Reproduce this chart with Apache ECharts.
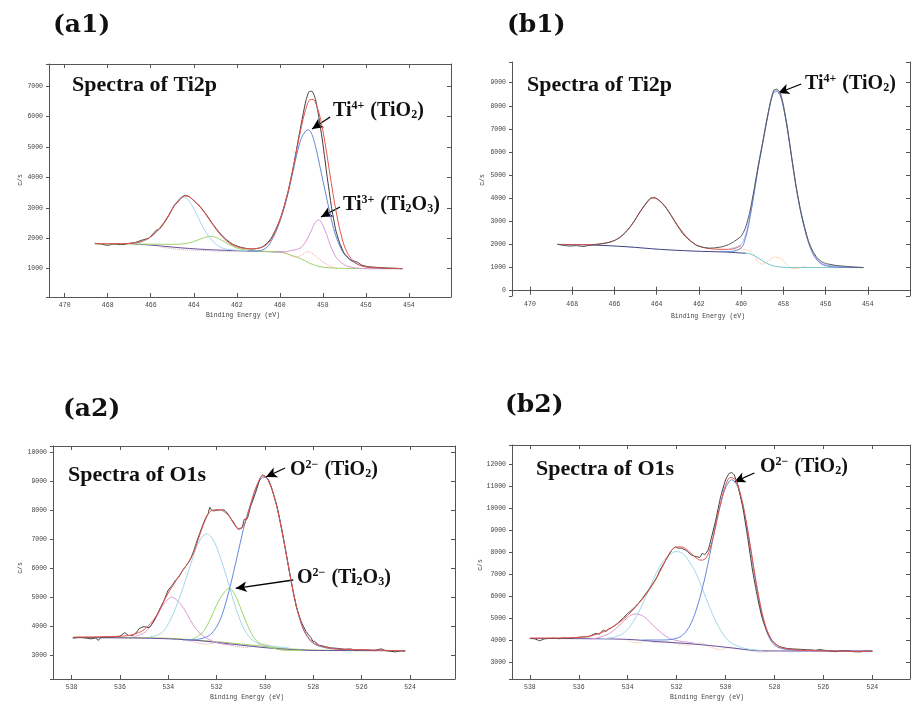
<!DOCTYPE html>
<html>
<head>
<meta charset="utf-8">
<script src="https://cdn.jsdelivr.net/npm/echarts@6/dist/echarts.min.js"></script>
<style>html,body{margin:0;padding:0;background:#fff}#c{width:913px;height:704px}</style>
</head>
<body>
<div id="c"></div>
<script>
// ---------------- DATA (binding energy eV, counts c/s) ----------------
// Panel a1: Ti2p
const a1Raw = [[468.6,1830],[468.3,1810],[468.0,1766],[467.85,1790],[467.7,1810],[467.4,1790],[467.2,1805],[467.0,1830],[466.7,1865],[466.4,1940],[466.1,2000],[465.9,2140],[465.75,2260],[465.6,2300],[465.4,2480],[465.2,2700],[464.9,3090],[464.75,3180],[464.6,3310],[464.4,3410],[464.2,3365],[464.0,3230],[463.7,3040],[463.4,2760],[463.1,2450],[462.8,2180],[462.5,1960],[462.2,1810],[461.9,1720],[461.6,1670],[461.3,1645],[461.0,1670],[460.8,1720],[460.6,1830],[460.4,2000],[460.2,2270],[460.0,2600],[459.8,3040],[459.6,3580],[459.4,4240],[459.2,5000],[459.0,5770],[458.8,6480],[458.65,6810],[458.5,6830],[458.35,6590],[458.2,6050],[458.0,5120],[457.8,4030],[457.6,3040],[457.4,2270],[457.2,1810],[457.0,1500],[456.7,1280],[456.5,1240],[456.35,1200],[456.2,1120],[455.9,1065],[455.5,1045],[455.2,1030],[455.0,1020],[454.7,1015],[454.5,1010],[454.3,1000]];
const a1Fit = [[468.6,1820],[467.0,1830],[466.5,1880],[466.0,2050],[465.6,2320],[465.2,2720],[464.9,3080],[464.6,3320],[464.45,3390],[464.2,3360],[464.0,3240],[463.7,3020],[463.4,2740],[463.1,2430],[462.8,2150],[462.5,1930],[462.2,1780],[461.9,1700],[461.6,1660],[461.3,1650],[461.0,1670],[460.8,1710],[460.6,1800],[460.4,1960],[460.2,2230],[460.0,2580],[459.8,3030],[459.6,3580],[459.4,4230],[459.2,4950],[459.0,5650],[458.8,6220],[458.6,6550],[458.45,6560],[458.3,6380],[458.1,5900],[457.9,5150],[457.7,4250],[457.5,3350],[457.3,2580],[457.1,1980],[456.9,1580],[456.6,1260],[456.3,1120],[456.0,1060],[455.5,1030],[455.0,1015],[454.3,1005]];
const a1Ti4 = [[461.5,1580],[461.0,1585],[460.6,1700],[460.4,1900],[460.2,2180],[460.0,2540],[459.8,2980],[459.6,3520],[459.4,4150],[459.2,4780],[459.0,5280],[458.8,5520],[458.67,5560],[458.5,5400],[458.3,4900],[458.1,4240],[457.9,3580],[457.7,2930],[457.5,2320],[457.3,1890],[457.1,1590],[456.9,1390],[456.6,1230],[456.3,1120],[456.0,1060],[455.5,1025],[455.0,1010],[454.3,1000]];
const a1Ti3 = [[460.2,1550],[459.8,1545],[459.53,1590],[459.3,1620],[459.06,1670],[458.9,1780],[458.75,1940],[458.52,2270],[458.36,2510],[458.21,2600],[458.1,2560],[457.97,2380],[457.8,2080],[457.66,1780],[457.5,1530],[457.35,1340],[457.1,1180],[456.89,1090],[456.6,1040],[456.27,1010],[455.5,1000],[454.3,1000]];
const a1Ti4b = [[467.0,1815],[466.5,1860],[466.0,2030],[465.6,2300],[465.2,2700],[464.9,3060],[464.7,3280],[464.55,3360],[464.3,3290],[464.0,2980],[463.7,2540],[463.4,2160],[463.1,1890],[462.8,1720],[462.5,1645],[462.0,1610],[461.5,1590]];
const a1Ti3b = [[468.6,1815],[467.5,1812],[466.5,1808],[465.5,1802],[465.0,1800],[464.5,1812],[464.0,1890],[463.6,2000],[463.2,2060],[462.8,1975],[462.4,1810],[462.0,1680],[461.6,1615],[461.2,1590],[460.8,1575],[460.3,1555],[460.0,1540],[459.7,1500],[459.4,1430],[459.06,1340],[458.8,1250],[458.6,1175],[458.35,1110],[458.13,1065],[457.8,1035],[457.5,1020],[457.0,1010],[456.0,1003],[454.3,1000]];
const a1Bg = [[466.8,1808],[466.0,1775],[465.3,1730],[464.6,1685],[463.8,1645],[463.0,1615],[462.0,1590],[461.0,1570],[460.3,1555],[459.8,1545]];
const a1Res = [[465.6,1720],[465.2,1680],[464.8,1640],[464.2,1610],[463.6,1600],[463.0,1580],[462.4,1570],[461.0,1560],[459.9,1570],[459.6,1470],[459.3,1380],[459.0,1440],[458.7,1560],[458.45,1480],[458.2,1330],[457.9,1180],[457.6,1060],[457.3,1010]];

// Panel b1: Ti2p
const b1Raw = [[468.7,2005],[468.4,1960],[468.1,1930],[467.8,1950],[467.5,1910],[467.2,1960],[466.9,1990],[466.6,2030],[466.3,2080],[466.0,2170],[465.7,2340],[465.4,2600],[465.1,2950],[464.8,3400],[464.5,3790],[464.3,4000],[464.1,4040],[463.9,3920],[463.6,3640],[463.3,3230],[463.0,2780],[462.7,2400],[462.4,2150],[462.1,1960],[461.8,1880],[461.5,1840],[461.2,1860],[460.9,1900],[460.6,1990],[460.3,2150],[460.0,2350],[459.8,2700],[459.6,3350],[459.4,4300],[459.2,5350],[459.0,6300],[458.8,7300],[458.6,8200],[458.45,8680],[458.3,8720],[458.15,8580],[458.0,8050],[457.8,7000],[457.6,5750],[457.4,4550],[457.2,3550],[457.0,2770],[456.8,2120],[456.6,1700],[456.4,1420],[456.2,1260],[456.0,1180],[455.8,1140],[455.5,1090],[455.0,1050],[454.6,1020],[454.2,1000]];
const b1Fit = [[468.7,2000],[468.0,1985],[467.0,2000],[466.5,2050],[466.0,2170],[465.6,2400],[465.2,2830],[464.8,3380],[464.5,3760],[464.2,4010],[463.9,3930],[463.6,3650],[463.3,3250],[463.0,2820],[462.6,2350],[462.2,2020],[461.8,1870],[461.4,1810],[461.0,1790],[460.6,1790],[460.3,1830],[460.0,1950]];
const b1Ti4 = [[461.0,1700],[460.5,1700],[460.0,1850],[459.8,2250],[459.6,3050],[459.4,4100],[459.2,5250],[459.0,6250],[458.8,7250],[458.6,8150],[458.45,8580],[458.3,8620],[458.15,8450],[458.0,7950],[457.8,6950],[457.6,5700],[457.4,4500],[457.2,3500],[457.0,2700],[456.8,2050],[456.6,1600],[456.4,1320],[456.2,1160],[456.0,1080],[455.5,1020],[455.0,1005],[454.2,1000]];
const b1Env = [[460.6,1790],[460.3,1870],[460.0,2000],[459.8,2380],[459.6,3150],[459.4,4200],[459.2,5330],[459.0,6330],[458.8,7320],[458.6,8220],[458.45,8640],[458.3,8680],[458.15,8520],[458.0,8000],[457.8,7000],[457.6,5740],[457.4,4540],[457.2,3540],[457.0,2740],[456.8,2090],[456.6,1640],[456.4,1360],[456.2,1200],[456.0,1120],[455.5,1060],[455.0,1030],[454.2,1010]];
const b1Bg = [[468.7,2005],[467.0,1975],[465.4,1900],[463.86,1790],[462.28,1715],[460.7,1670],[459.76,1615]];
const b1Bg2 = [[459.9,1640],[459.6,1600],[459.3,1480],[459.0,1300],[458.7,1150],[458.4,1060],[458.0,1015],[457.5,1000],[454.2,1000]];
const b1Res = [[460.4,1700],[460.0,1800],[459.7,1750],[459.4,1550],[459.2,1250],[459.0,1150],[458.7,1300],[458.4,1450],[458.1,1380],[457.8,1100],[457.5,950],[457.2,1000],[456.9,1050]];

// Panel a2: O1s
const a2Raw = [[537.95,3580],[537.7,3610],[537.5,3600],[537.2,3560],[537.0,3590],[536.9,3500],[536.8,3600],[536.6,3620],[536.3,3630],[536.0,3650],[535.8,3770],[535.65,3680],[535.5,3670],[535.3,3800],[535.2,3920],[535.0,3980],[534.8,3950],[534.65,4100],[534.5,4330],[534.35,4600],[534.2,4850],[534.0,5250],[533.85,5400],[533.7,5590],[533.55,5720],[533.4,5940],[533.25,6100],[533.1,6290],[532.95,6600],[532.8,6980],[532.6,7440],[532.45,7750],[532.35,7900],[532.28,8110],[532.2,8000],[532.1,7990],[531.9,8020],[531.7,8020],[531.5,7840],[531.3,7560],[531.1,7350],[530.95,7400],[530.85,7700],[530.75,7700],[530.6,8130],[530.4,8590],[530.2,9110],[530.1,9230],[530.0,9190],[529.9,9110],[529.7,8710],[529.5,8130],[529.3,7320],[529.1,6400],[528.9,5480],[528.7,4670],[528.5,4150],[528.3,3810],[528.1,3600],[528.0,3460],[527.95,3480],[527.8,3350],[527.5,3290],[527.3,3250],[527.0,3230],[526.7,3200],[526.5,3210],[526.2,3170],[526.0,3180],[525.7,3170],[525.5,3160],[525.2,3210],[525.0,3150],[524.9,3140],[524.6,3110],[524.4,3140],[524.2,3140]];
const a2Fit = [[537.9,3620],[537.0,3630],[536.0,3650],[535.5,3700],[535.0,3880],[534.5,4350],[534.0,5150],[533.5,5800],[533.0,6450],[532.7,7150],[532.4,7800],[532.2,8000],[531.9,8030],[531.6,7900],[531.3,7600],[531.1,7380],[530.9,7450],[530.7,7900],[530.5,8500],[530.3,8950],[530.1,9200],[529.9,9100],[529.7,8700],[529.5,8100],[529.3,7300],[529.1,6400],[528.9,5480],[528.7,4680],[528.5,4100],[528.3,3720],[528.0,3430],[527.5,3270],[527.0,3210],[526.0,3180],[525.0,3160],[524.2,3150]];
const a2TiO2 = [[533.4,3520],[532.83,3540],[532.41,3630],[532.14,3810],[531.86,4210],[531.59,4900],[531.31,5830],[531.03,6860],[530.76,7790],[530.48,8480],[530.25,9000],[530.05,9150],[529.85,9050],[529.7,8700],[529.5,8100],[529.3,7300],[529.1,6390],[528.9,5470],[528.7,4660],[528.5,4080],[528.3,3700],[528.0,3400],[527.5,3250],[527.0,3200],[526.0,3170],[525.0,3155],[524.2,3150]];
const a2Cyan = [[534.76,3630],[534.34,3730],[534.07,3980],[533.79,4440],[533.52,5020],[533.24,5710],[532.97,6400],[532.69,6980],[532.41,7190],[532.14,6980],[531.86,6400],[531.59,5710],[531.31,4900],[531.03,4210],[530.76,3750],[530.48,3500],[530.07,3350],[529.6,3300],[529.0,3240]];
const a2Pink = [[535.45,3630],[535.03,3750],[534.76,3980],[534.48,4330],[534.21,4730],[533.86,5000],[533.52,4790],[533.24,4440],[532.97,4040],[532.69,3750],[532.28,3520],[531.86,3400],[531.3,3340]];
const a2Ti2O3 = [[533.0,3550],[532.83,3630],[532.55,3810],[532.28,4210],[532.0,4730],[531.72,5130],[531.48,5310],[531.24,5080],[531.03,4670],[530.76,4100],[530.48,3630],[530.21,3400],[529.79,3270],[529.24,3170],[528.5,3160]];
const a2Bg = [[537.95,3610],[536.0,3600],[534.07,3580],[532.0,3460],[530.62,3350],[529.24,3230],[527.86,3170],[526.0,3155],[524.2,3150]];
const a2Bg2 = [[537.95,3600],[535.5,3590],[534.0,3560],[532.5,3480],[531.0,3340],[529.5,3220],[528.0,3160],[524.2,3150]];
const a2Res = [[533.2,3500],[532.8,3420],[532.4,3380],[532.0,3420],[531.6,3380],[531.2,3300],[530.8,3260],[530.4,3330],[530.0,3380],[529.6,3250],[529.2,3170],[528.8,3180]];

// Panel b2: O1s
const b2Raw = [[538.0,4100],[537.8,4080],[537.6,4000],[537.4,4080],[537.2,4100],[537.0,4110],[536.8,4090],[536.6,4120],[536.4,4110],[536.2,4130],[536.0,4150],[535.8,4170],[535.6,4180],[535.45,4260],[535.3,4330],[535.15,4300],[535.0,4480],[534.9,4420],[534.8,4510],[534.65,4600],[534.5,4710],[534.35,4850],[534.2,5010],[534.0,5240],[533.85,5370],[533.7,5540],[533.55,5700],[533.4,5920],[533.25,6150],[533.1,6370],[532.95,6620],[532.8,6900],[532.7,7150],[532.6,7360],[532.4,7730],[532.2,8110],[532.05,8250],[531.95,8200],[531.8,8190],[531.6,8080],[531.4,7890],[531.2,7810],[531.05,7780],[530.95,7960],[530.85,7900],[530.7,8150],[530.6,8570],[530.4,9470],[530.2,10530],[530.0,11290],[529.85,11590],[529.75,11620],[529.65,11520],[529.5,11060],[529.3,10080],[529.1,8720],[528.9,7210],[528.7,6000],[528.5,5010],[528.3,4410],[528.1,4000],[527.95,3850],[527.8,3730],[527.5,3650],[527.2,3620],[527.0,3610],[526.7,3590],[526.5,3580],[526.3,3560],[526.2,3600],[526.0,3570],[525.8,3540],[525.5,3500],[525.3,3530],[525.0,3540],[524.8,3500],[524.5,3490],[524.3,3520],[524.0,3520]];
const b2Fit = [[538.0,4120],[537.0,4120],[536.0,4150],[535.5,4220],[535.0,4400],[534.5,4700],[534.0,5150],[533.5,5750],[533.0,6500],[532.6,7300],[532.3,7950],[532.0,8250],[531.8,8250],[531.5,8050],[531.2,7750],[531.0,7650],[530.8,7750],[530.6,8300],[530.4,9200],[530.2,10250],[530.0,11050],[529.8,11400],[529.6,11300],[529.4,10700],[529.2,9700],[529.0,8400],[528.8,7000],[528.6,5750],[528.4,4800],[528.2,4200],[528.0,3880],[527.7,3680],[527.3,3600],[527.0,3570],[526.0,3540],[525.0,3520],[524.0,3510]];
const b2TiO2 = [[533.4,4030],[532.56,4030],[532.02,4100],[531.75,4260],[531.48,4630],[531.2,5390],[530.93,6450],[530.66,7810],[530.39,9320],[530.12,10530],[529.95,11050],[529.75,11300],[529.55,11100],[529.4,10600],[529.2,9600],[529.0,8300],[528.8,6900],[528.6,5650],[528.4,4700],[528.2,4100],[528.0,3800],[527.7,3640],[527.3,3580],[527.0,3560],[526.0,3540],[525.0,3530],[524.0,3525]];
const b2Cyan = [[535.15,4070],[534.6,4150],[534.19,4330],[533.92,4630],[533.65,5090],[533.38,5690],[533.11,6370],[532.84,7050],[532.56,7580],[532.29,7890],[532.02,8040],[531.75,7960],[531.48,7580],[531.2,7050],[530.93,6300],[530.66,5540],[530.39,4860],[530.12,4330],[529.84,3950],[529.44,3730],[529.03,3610],[528.5,3560]];
const b2Pink = [[535.55,4070],[535.15,4150],[534.74,4330],[534.47,4560],[534.19,4860],[533.92,5120],[533.65,5210],[533.38,5120],[533.11,4860],[532.84,4560],[532.56,4300],[532.29,4100],[531.88,3980],[531.3,3900]];
const b2Bg = [[538.0,4100],[536.0,4090],[534.06,4060],[532.7,3950],[531.34,3850],[529.98,3700],[529.3,3610],[528.6,3540],[527.0,3530],[524.0,3530]];
const b2Res = [[534.0,4000],[533.6,3900],[533.2,3980],[532.8,3900],[532.4,3960],[532.0,3850],[531.5,3800],[531.0,3880],[530.6,3700],[530.2,3600],[529.8,3700],[529.4,3620],[529.0,3550],[528.6,3480],[528.2,3500]];

// annotation arrows [tail, tip] in data coords
const a1Arrows = [[[457.66,5980],[458.5,5590]], [[457.2,3027],[458.08,2700]]];
const b1Arrows = [[[457.15,8944],[458.24,8555]]];
const a2Arrows = [[[529.17,9471],[529.96,9159]], [[528.83,5595],[531.21,5308]]];
const b2Arrows = [[[528.82,11607],[529.64,11199]]];

// tick label ranges
const tiTicks = [454, 470];
const oTicks = [524, 538];
const yStep = 1000, xStep = 2;

// ---------------- LAYOUT / STYLE ----------------
const C = {raw:'#3c3c3c', fit:'#e8564c', blue:'#6688dd', pink:'#d99ad8', cyan:'#9fd9ec', green:'#9fd46a', purple:'#6a4e9c', navy:'#3e4180', teal:'#7cc4c6', lav:'#b9b6e6', res:'#f4a3a0', resO:'#f2b98f'};
const panels = [
  {grid:{left:49, top:64, width:402, height:233}, x:[452.04,470.73], y:[70,7723], ticks:tiTicks,
   series:[[a1Bg,C.purple],[a1Res,C.res,'dotted'],[a1Ti3b,C.green],[a1Ti4b,C.cyan],[a1Ti3,C.pink],[a1Ti4,C.blue],[a1Raw,C.raw,null,0.15],[a1Fit,C.fit]], arrows:a1Arrows},
  {grid:{left:512, top:62, width:399, height:234}, x:[452.0,470.85], y:[-230,9896], ticks:tiTicks,
   series:[[b1Res,C.resO,'dotted'],[b1Bg,C.navy],[b1Bg2,C.teal],[b1Fit,C.fit],[b1Env,C.lav],[b1Ti4,C.blue],[b1Raw,'#555',null,0.15]], arrows:b1Arrows},
  {grid:{left:53, top:446, width:402, height:233}, x:[522.14,538.77], y:[2170,10232], ticks:oTicks,
   series:[[a2Res,C.res,'dotted'],[a2Bg,C.green],[a2Bg2,C.purple],[a2Pink,C.pink],[a2Cyan,C.cyan],[a2Ti2O3,C.green],[a2TiO2,C.blue],[a2Raw,C.raw,null,0.15],[a2Fit,C.fit]], arrows:a2Arrows},
  {grid:{left:512, top:445, width:399, height:234}, x:[522.46,538.73], y:[2260,12876], ticks:oTicks,
   series:[[b2Res,C.resO,'dotted'],[b2Bg,C.purple],[b2Pink,C.pink],[b2Cyan,C.cyan],[b2TiO2,C.blue],[b2Raw,C.raw,null,0.15],[b2Fit,C.fit]], arrows:b2Arrows}
];

const axisCol = '#555', lblCol = '#444', tickFont = 'Liberation Mono';
const grids = [], xAxes = [], yAxes = [], series = [];
panels.forEach((p, i) => {
  grids.push(Object.assign({containLabel:false}, p.grid));
  const lo = p.ticks[0], hi = p.ticks[1];
  const xBase = {gridIndex:i, type:'value', inverse:true, min:p.x[0], max:p.x[1], minInterval:xStep, maxInterval:xStep,
    splitLine:{show:false}, axisLine:{lineStyle:{color:axisCol, width:1}},
    axisTick:{inside:true, length:4, lineStyle:{color:axisCol}}};
  xAxes.push(Object.assign({}, xBase, {position:'bottom',
    axisLabel:{fontSize:6.5, color:lblCol, fontFamily:tickFont, margin:5, showMinLabel:true, showMaxLabel:true,
      formatter:v => (Math.abs(v - Math.round(v)) < 1e-6 && Math.round(v) % xStep === 0 && v >= lo && v <= hi) ? String(Math.round(v)) : ''}}));
  xAxes.push(Object.assign({}, xBase, {position:'top', axisLabel:{show:false}}));
  const yBase = {gridIndex:i, type:'value', min:p.y[0], max:p.y[1], minInterval:yStep, maxInterval:yStep,
    splitLine:{show:false}, axisLine:{show:true, lineStyle:{color:axisCol, width:1}}};
  yAxes.push(Object.assign({}, yBase, {position:'left', axisTick:{inside:false, length:3, lineStyle:{color:axisCol}},
    axisLabel:{fontSize:6.5, color:lblCol, fontFamily:tickFont, margin:6,
      formatter:v => (Math.abs(v % yStep) < 1e-6) ? String(v) : ''}}));
  yAxes.push(Object.assign({}, yBase, {position:'right', axisTick:{inside:true, length:4, lineStyle:{color:axisCol}}, axisLabel:{show:false}}));
  p.series.forEach((s, k) => {
    const ser = {type:'line', xAxisIndex:2*i, yAxisIndex:2*i, data:s[0], showSymbol:false, silent:true,
      smooth: s[3] != null ? s[3] : 0.35, lineStyle:{color:s[1], width:1, type:s[2] || 'solid'}, z:2+k};
    if (k === p.series.length - 1) {
      ser.markLine = {silent:true, animation:false, symbol:['none','arrow'], symbolSize:[8,11],
        lineStyle:{color:'#000', width:1.3, type:'solid'}, label:{show:false},
        data:p.arrows.map(a => [{coord:a[0]}, {coord:a[1]}])};
    }
    series.push(ser);
  });
});

const serif = 'Liberation Serif';
const rich = {
  b:{fontSize:20, fontFamily:serif, fontWeight:'bold', fill:'#111', lineHeight:24},
  sp:{fontSize:12, fontFamily:serif, fontWeight:'bold', fill:'#111', lineHeight:24, verticalAlign:'top', padding:[1,1,0,0]},
  sb:{fontSize:12, fontFamily:serif, fontWeight:'bold', fill:'#111', lineHeight:24, verticalAlign:'bottom', padding:[0,0,2,0]}
};
function ann(x, y, text) {
  return {type:'text', left:x, top:y - 12, silent:true, z:100, style:{text, rich, fill:'#111'}};
}
function txt(x, y, text, font, align, rot) {
  return {type:'text', x, y, rotation:rot || 0, silent:true, z:100,
    style:Object.assign({text, textAlign:align || 'left', textVerticalAlign:'middle', fill:'#111'}, font)};
}
const labelFont = {fontFamily:'DejaVu Serif', fontWeight:'bold', fontSize:25};
const titleFont = {fontFamily:serif, fontWeight:'bold', fontSize:22};
const axisFont = {fontFamily:tickFont, fontSize:6.5, fill:'#444'};

const graphic = [
  txt(53, 25, '(a1)', labelFont), txt(507, 25, '(b1)', labelFont),
  txt(63, 409, '(a2)', labelFont), txt(505, 405, '(b2)', labelFont),
  txt(72, 85, 'Spectra of Ti2p', titleFont), txt(527, 85, 'Spectra of Ti2p', titleFont),
  txt(68, 475, 'Spectra of O1s', titleFont), txt(536, 469, 'Spectra of O1s', titleFont),
  ann(333, 111, '{b|Ti}{sp|4+}{b| (TiO}{sb|2}{b|)}'),
  ann(343, 205, '{b|Ti}{sp|3+}{b| (Ti}{sb|2}{b|O}{sb|3}{b|)}'),
  ann(805, 84, '{b|Ti}{sp|4+}{b| (TiO}{sb|2}{b|)}'),
  ann(290, 470, '{b|O}{sp|2\u2212}{b| (TiO}{sb|2}{b|)}'),
  ann(297, 578, '{b|O}{sp|2\u2212}{b| (Ti}{sb|2}{b|O}{sb|3}{b|)}'),
  ann(760, 467, '{b|O}{sp|2\u2212}{b| (TiO}{sb|2}{b|)}'),
  txt(243, 315, 'Binding Energy (eV)', axisFont, 'center'), txt(708, 316, 'Binding Energy (eV)', axisFont, 'center'),
  txt(247, 697, 'Binding Energy (eV)', axisFont, 'center'), txt(707, 697, 'Binding Energy (eV)', axisFont, 'center'),
  txt(20, 180, 'c/s', axisFont, 'center', Math.PI / 2), txt(482, 180, 'c/s', axisFont, 'center', Math.PI / 2),
  txt(20, 568, 'c/s', axisFont, 'center', Math.PI / 2), txt(480, 565, 'c/s', axisFont, 'center', Math.PI / 2)
];

const chart = echarts.init(document.getElementById('c'), null, {renderer:'canvas'});
chart.setOption({animation:false, backgroundColor:'#fff', grid:grids, xAxis:xAxes, yAxis:yAxes, series, graphic});
</script>
</body>
</html>
